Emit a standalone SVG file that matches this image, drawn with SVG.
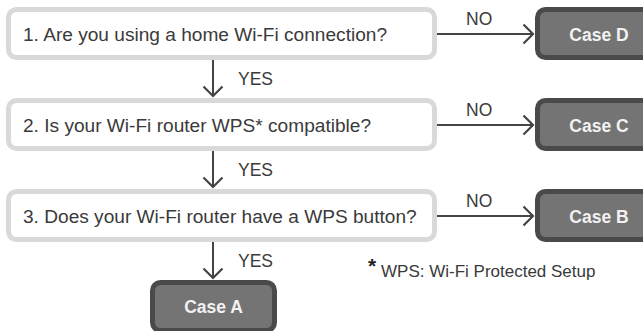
<svg xmlns="http://www.w3.org/2000/svg" width="643" height="331" viewBox="0 0 643 331">
<defs>
<style>
.q{fill:#fff;stroke:#d9d9d9;stroke-width:5}
.c{fill:#747474;stroke:#4a4a4a;stroke-width:5}
.qt{font-family:"Liberation Sans",Arial,sans-serif;font-size:19.1px;fill:#3a3a3a}
.ct{font-family:"Liberation Sans",Arial,sans-serif;font-size:17.5px;font-weight:bold;fill:#f2f2f2;text-anchor:middle}
.lb{font-family:"Liberation Sans",Arial,sans-serif;font-size:17.5px;fill:#3a3a3a}
.ln{fill:none;stroke:#444;stroke-width:2}
.hd{fill:none;stroke:#444;stroke-width:2.2;stroke-linejoin:miter}
</style>
</defs>
<rect width="643" height="331" fill="#fff"/>
<g id="connectors">
<path class="ln" d="M213 60V96"/><path class="hd" d="M203.5 86.5L213 96L222.5 86.5"/>
<path class="ln" d="M213 151V187"/><path class="hd" d="M203.5 177.5L213 187L222.5 177.5"/>
<path class="ln" d="M213 242V278"/><path class="hd" d="M203.5 268.5L213 278L222.5 268.5"/>
<path class="ln" d="M437 34H533"/><path class="hd" d="M523.5 24.5L533 34L523.5 43.5"/>
<path class="ln" d="M437 125H533"/><path class="hd" d="M523.5 115.5L533 125L523.5 134.5"/>
<path class="ln" d="M437 216H533"/><path class="hd" d="M523.5 206.5L533 216L523.5 225.5"/>
<text class="lb" x="238" y="85">YES</text>
<text class="lb" x="238" y="176">YES</text>
<text class="lb" x="238" y="267">YES</text>
<text class="lb" x="466" y="25">NO</text>
<text class="lb" x="466" y="116">NO</text>
<text class="lb" x="466" y="207">NO</text>
</g>
<g id="q1"><rect class="q" x="8.5" y="9.5" width="426" height="48" rx="8"/><text class="qt" x="23" y="41">1. Are you using a home Wi-Fi connection?</text></g>
<g id="q2"><rect class="q" x="8.5" y="100.5" width="426" height="48" rx="8"/><text class="qt" x="23" y="132">2. Is your Wi-Fi router WPS* compatible?</text></g>
<g id="q3"><rect class="q" x="8.5" y="191.5" width="426" height="48" rx="8"/><text class="qt" x="23" y="223">3. Does your Wi-Fi router have a WPS button?</text></g>
<g id="caseD"><rect class="c" x="537.5" y="9.5" width="124" height="48" rx="8"/><text class="ct" x="599" y="40.5">Case D</text></g>
<g id="caseC"><rect class="c" x="537.5" y="100.5" width="124" height="48" rx="8"/><text class="ct" x="599" y="131.5">Case C</text></g>
<g id="caseB"><rect class="c" x="537.5" y="191.5" width="124" height="48" rx="8"/><text class="ct" x="599" y="222.5">Case B</text></g>
<g id="caseA"><rect class="c" x="152.5" y="282.5" width="122" height="48" rx="8"/><text class="ct" x="213.5" y="313">Case A</text></g>
<g id="footnote">
<text x="368" y="273" style="font-family:'Liberation Sans',Arial,sans-serif;font-size:21px;font-weight:bold;fill:#222">*</text>
<text x="381" y="277" style="font-family:'Liberation Sans',Arial,sans-serif;font-size:17px;fill:#3a3a3a">WPS: Wi-Fi Protected Setup</text>
</g>
</svg>
